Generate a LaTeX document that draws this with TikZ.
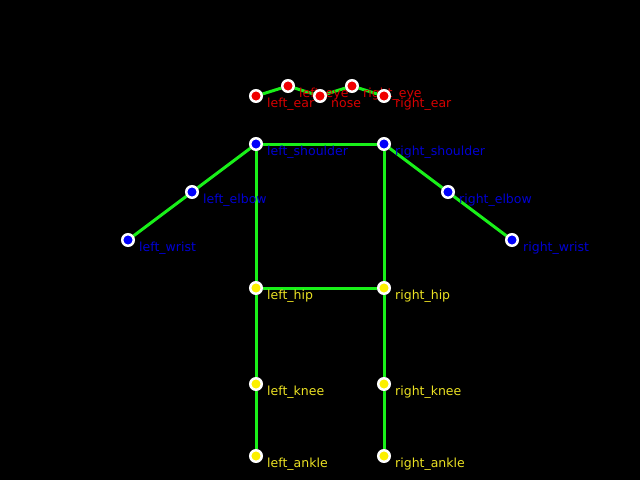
\documentclass[tikz,border=0pt]{standalone}
\usepackage{fontspec}
\setmainfont{DejaVu Sans}
\usetikzlibrary{backgrounds}
\definecolor{bonegreen}{RGB}{25, 240, 25}
\definecolor{headpt}{RGB}{240, 0, 0}
\definecolor{headlb}{RGB}{215, 0, 0}
\definecolor{armpt}{RGB}{0, 0, 250}
\definecolor{armlb}{RGB}{0, 0, 210}
\definecolor{legpt}{RGB}{252, 240, 0}
\definecolor{leglb}{RGB}{235, 225, 35}

\begin{document}
\begin{tikzpicture}[x=1pt, y=-1pt,
    kp/.style={circle, draw=white, line width=2.5pt, minimum size=11.5pt, inner sep=0pt},
    kplab/.style={anchor=base west, inner sep=0pt, font=\fontsize{12.5}{13}\selectfont},
    bone/.style={draw=bonegreen, line width=3pt}]
        % keypoints
        \foreach \nm/\px/\py/\cpt/\clb/\txt in {
            lear/256/96/headpt/headlb/left\_ear,
            leye/288/86/headpt/headlb/left\_eye,
            nose/320/96/headpt/headlb/nose,
            reye/352/86/headpt/headlb/right\_eye,
            rear/384/96/headpt/headlb/right\_ear,
            lsho/256/144/armpt/armlb/left\_shoulder,
            rsho/384/144/armpt/armlb/right\_shoulder,
            lelb/192/192/armpt/armlb/left\_elbow,
            relb/448/192/armpt/armlb/right\_elbow,
            lwri/128/240/armpt/armlb/left\_wrist,
            rwri/512/240/armpt/armlb/right\_wrist,
            lhip/256/288/legpt/leglb/left\_hip,
            rhip/384/288/legpt/leglb/right\_hip,
            lkne/256/384/legpt/leglb/left\_knee,
            rkne/384/384/legpt/leglb/right\_knee,
            lank/256/456/legpt/leglb/left\_ankle,
            rank/384/456/legpt/leglb/right\_ankle}
        {
            \node[kp, fill=\cpt] (\nm) at (\px,\py) {};
            \node[kplab, text=\clb] (\nm-lab) at (\px+11,\py+11) {\txt};
        }

        % skeleton
        \begin{scope}[on background layer]
            \fill[black] (0,0) rectangle (640,480);
            \foreach \a/\b in {lear/leye, leye/nose, nose/reye, reye/rear,
                lsho/rsho, lsho/lelb, lelb/lwri, rsho/relb, relb/rwri,
                lsho/lhip, rsho/rhip, lhip/rhip,
                lhip/lkne, lkne/lank, rhip/rkne, rkne/rank}
                \draw[bone] (\a) -- (\b);
        \end{scope}
    \end{tikzpicture}
\end{document}
